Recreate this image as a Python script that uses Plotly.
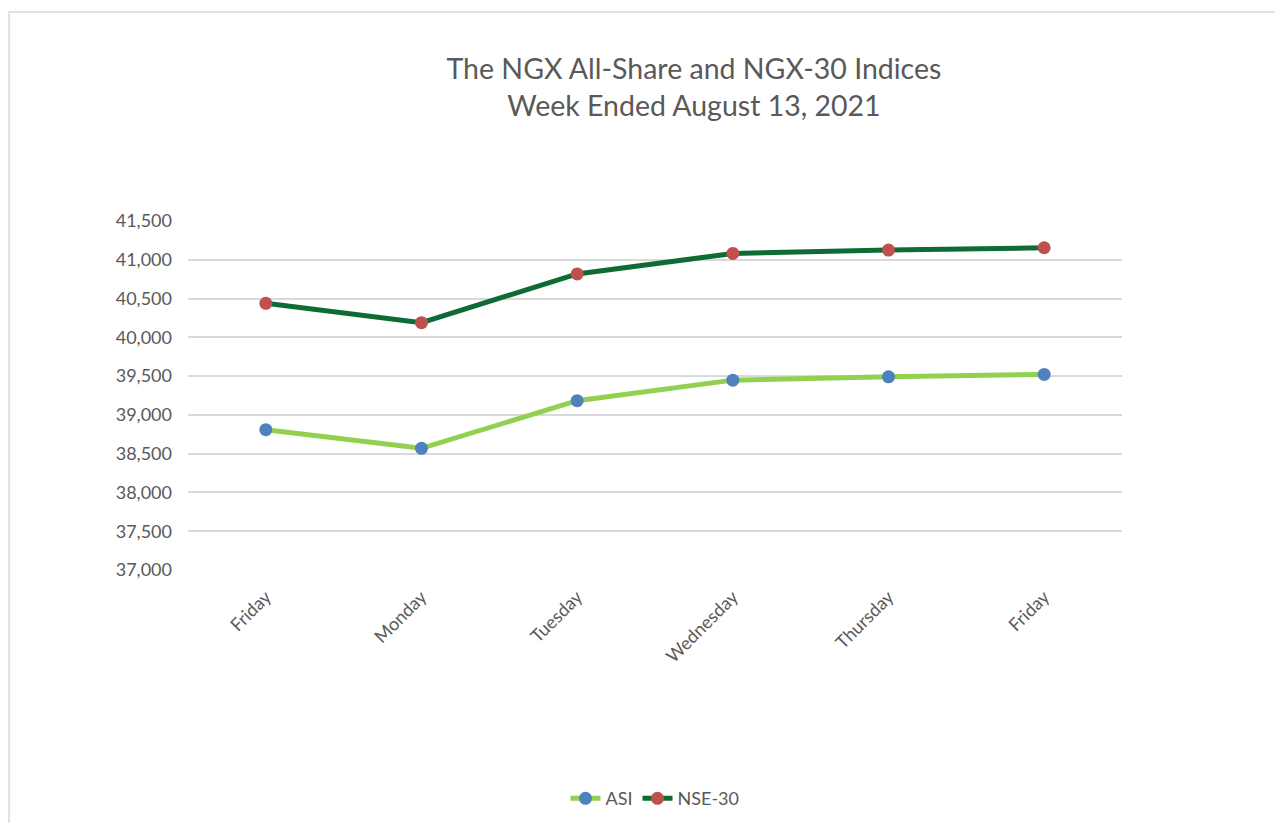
import plotly.graph_objects as go

days = ["Friday", "Monday", "Tuesday", "Wednesday", "Thursday", "Friday"]
asi = [38809, 38569, 39183, 39448, 39491, 39522]
nse30 = [40439, 40189, 40817, 41082, 41125, 41155]
y_ticks = [37000, 37500, 38000, 38500, 39000, 39500, 40000, 40500, 41000, 41500]

x = list(range(len(days)))
FONT = "Lato"
GREY = "#595959"

fig = go.Figure()
fig.add_trace(go.Scatter(
    x=x, y=asi, name="ASI", mode="lines+markers",
    line=dict(color="#92d050", width=5),
    marker=dict(color="#4f81bd", size=13),
))
fig.add_trace(go.Scatter(
    x=x, y=nse30, name="NSE-30", mode="lines+markers",
    line=dict(color="#0e6b36", width=5),
    marker=dict(color="#c0504d", size=13),
))

# plot area: 349 px tall starting 213 px from the top of the figure
fig.update_layout(
    width=1275, height=840,
    margin=dict(l=180, r=161, t=213, b=278),
    paper_bgcolor="white", plot_bgcolor="white",
    font=dict(family=FONT, color=GREY),
    title=dict(
        text="The NGX All-Share and NGX-30 Indices<br>Week Ended August 13, 2021",
        x=0.538, xanchor="center", y=1 - 71 / 840, yanchor="middle",
        font=dict(family=FONT, size=28.5, color=GREY),
    ),
    showlegend=True,
    legend=dict(orientation="h", x=0.5, xanchor="center", y=-0.655, yanchor="middle",
                font=dict(family=FONT, size=18, color=GREY)),
    shapes=[dict(type="rect", xref="paper", yref="paper",
                 x0=-0.1916, x1=1.2, y0=-0.8, y1=1.599,
                 line=dict(color="#d9d9d9", width=1.5), layer="below")],
)
fig.update_xaxes(
    tickmode="array", tickvals=x, ticktext=days, range=[-0.5, 5.5],
    tickangle=-45, showgrid=False, zeroline=False, showline=False, ticks="",
    ticklabelstandoff=12,
    tickfont=dict(family=FONT, size=18, color=GREY),
)
fig.update_yaxes(
    range=[37000, 41500], tickmode="array", tickvals=y_ticks,
    tickformat=",", showgrid=True, gridcolor="#d9d9d9", gridwidth=1.5,
    zeroline=False, showline=False, ticks="", ticklabelstandoff=15,
    tickfont=dict(family=FONT, size=18, color=GREY),
)

fig.write_html("out.html")
